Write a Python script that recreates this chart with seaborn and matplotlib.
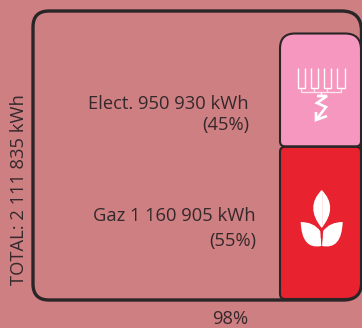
import matplotlib
matplotlib.use("Agg")
import matplotlib.pyplot as plt
import seaborn as sns
from matplotlib.path import Path
from matplotlib.patches import PathPatch, Polygon
from matplotlib.transforms import IdentityTransform

# Data
categories = ["Gaz", "Elect."]
drawn_shares = [57.4, 42.6]          # bar heights as drawn, % of filled height
labels_main = ["Gaz 1 160 905 kWh", "Elect. 950 930 kWh"]
labels_pct = ["(55%)", "(45%)"]
y_label = "TOTAL: 2 111 835 kWh"
x_label = "98%"

BG = "#CE7F81"
DARK = "#2A2526"
TXT = "#35282C"
colors = {"Gaz": "#E8222F", "Elect.": "#F597BE"}
W, H = 362, 328
FONT = "Open Sans"

sns.set_theme(style="white", rc={"font.family": FONT})
plt.rcParams["font.family"] = [FONT, "DejaVu Sans"]

fig = plt.figure(figsize=(W / 100, H / 100), dpi=100, facecolor=BG)
# axes spans the frame interior; bars fill the right part
L, R, T, B = 33, 361, 33, 299
ax = fig.add_axes([L / W, 1 - B / H, (R - L) / W, (B - T) / H])
ax.set_facecolor("none")

bottom = 0
for c, v in zip(categories, drawn_shares):
    sns.barplot(x=[0], y=[v], bottom=bottom, color=colors[c], width=1, ax=ax,
                saturation=1, native_scale=True)
    bottom += v
ax.set_xlim(-3.55, 0.5)   # frame width vs bar width
ax.set_ylim(0, 100)
ax.set_xlabel("")
ax.set_ylabel("")
ax.set_xticks([])
ax.set_yticks([])
sns.despine(ax=ax, left=True, bottom=True)
fig.canvas.draw()


def rpath(x0, y0, x1, y1, tl, tr, br, bl):
    """Rounded box in display pixels; y0 bottom, y1 top."""
    v = [(x0 + bl, y0), (x1 - br, y0), (x1, y0), (x1, y0 + br),
         (x1, y1 - tr), (x1, y1), (x1 - tr, y1),
         (x0 + tl, y1), (x0, y1), (x0, y1 - tl),
         (x0, y0 + bl), (x0, y0), (x0 + bl, y0), (x0 + bl, y0)]
    c = [Path.MOVETO, Path.LINETO, Path.CURVE3, Path.CURVE3,
         Path.LINETO, Path.CURVE3, Path.CURVE3,
         Path.LINETO, Path.CURVE3, Path.CURVE3,
         Path.LINETO, Path.CURVE3, Path.CURVE3, Path.CLOSEPOLY]
    return Path(v, c)


def px(x, y):
    return (x, H - y)


def add(artist):
    artist.set_transform(IdentityTransform())
    artist.set_clip_on(False)
    fig.add_artist(artist)
    return artist


# outer frame
add(PathPatch(rpath(33, H - 300, 361.5, H - 11, 16, 20, 18, 16), fc="none",
              ec=DARK, lw=2.4))

# replace the bars by rounded versions, keeping geometry from the axes
radii = [(5, 5, 16, 5), (15, 16, 5, 5)]
for bar, rad in zip(list(ax.patches), radii):
    e = bar.get_window_extent()
    bar.set_visible(False)
    add(PathPatch(rpath(e.x0, e.y0, e.x1, e.y1 - 0.5, *rad),
                  fc=bar.get_facecolor(), ec=DARK, lw=1.5))

# electricity icon
WHITE = "white"
for x0, x1 in [(298, 305), (311, 318), (324, 331), (337, 345)]:
    add(Polygon([px(x0, 68), px(x0, 88), px(x1, 88), px(x1, 68)], closed=False,
                fill=False, ec=WHITE, lw=1.0))
for pts, col in [
    ([(301, 88), (301, 92), (341, 92), (341, 88)], "#FCE3EE"),
    ([(314, 88), (314, 92)], "#FCE3EE"),
    ([(327, 88), (327, 92)], "#FCE3EE"),
    ([(321, 92), (321, 95)], WHITE),
]:
    add(Polygon([px(*p) for p in pts], closed=False, fill=False, ec=col, lw=1.0))
add(Polygon([px(*p) for p in [(317, 96), (327, 96), (317, 103), (326, 107), (316, 120)]],
            closed=False, fill=False, ec=WHITE, lw=1.9))
add(Polygon([px(*p) for p in [(316, 112), (316, 120), (327, 116)]], closed=False,
            fill=False, ec=WHITE, lw=1.9))

# gas icon: three leaves
cx = 321.7
v = [px(*p) for p in [(cx, 190), (cx + 17, 207), (cx, 228), (cx - 17, 207), (cx, 190)]]
add(PathPatch(Path(v, [Path.MOVETO, Path.CURVE3, Path.CURVE3, Path.CURVE3, Path.CURVE3]),
              fc=WHITE, ec="none"))
for s in (-1, 1):
    v = [(cx + s * 21, 222), (cx + s * 8, 222), (cx + s * 1.5, 231),
         (cx + s * 0.6, 238), (cx + s * 0.4, 246), (cx + s * 20, 250), (cx + s * 21, 222)]
    v = [px(*p) for p in v]
    add(PathPatch(Path(v, [Path.MOVETO, Path.CURVE3, Path.CURVE3, Path.CURVE3,
                           Path.CURVE3, Path.CURVE3, Path.CURVE3]), fc=WHITE, ec="none"))
add(Polygon([px(cx, 192), px(cx, 226)], closed=False, fill=False, ec="#FADADD", lw=0.5))
add(Polygon([px(cx, 230), px(cx + 1, 237), px(cx, 244), px(cx - 1, 237)],
            closed=True, fc="#E8222F", ec="none"))

# texts
FS = 13.2
def t(x, y, s, **kw):
    fig.text(x / W, 1 - y / H, s, color=TXT, fontsize=FS, family=[FONT, "DejaVu Sans"],
             va="center", **kw)

t(248.5, 104, labels_main[1], ha="right")
t(249, 125, labels_pct[1], ha="right")
t(256, 216, labels_main[0], ha="right")
t(256, 241, labels_pct[0], ha="right")
t(19.5, 190, y_label, ha="center", rotation=90)
t(230.5, 319, x_label, ha="center")

fig.savefig("out.png", dpi=100, facecolor=BG)
